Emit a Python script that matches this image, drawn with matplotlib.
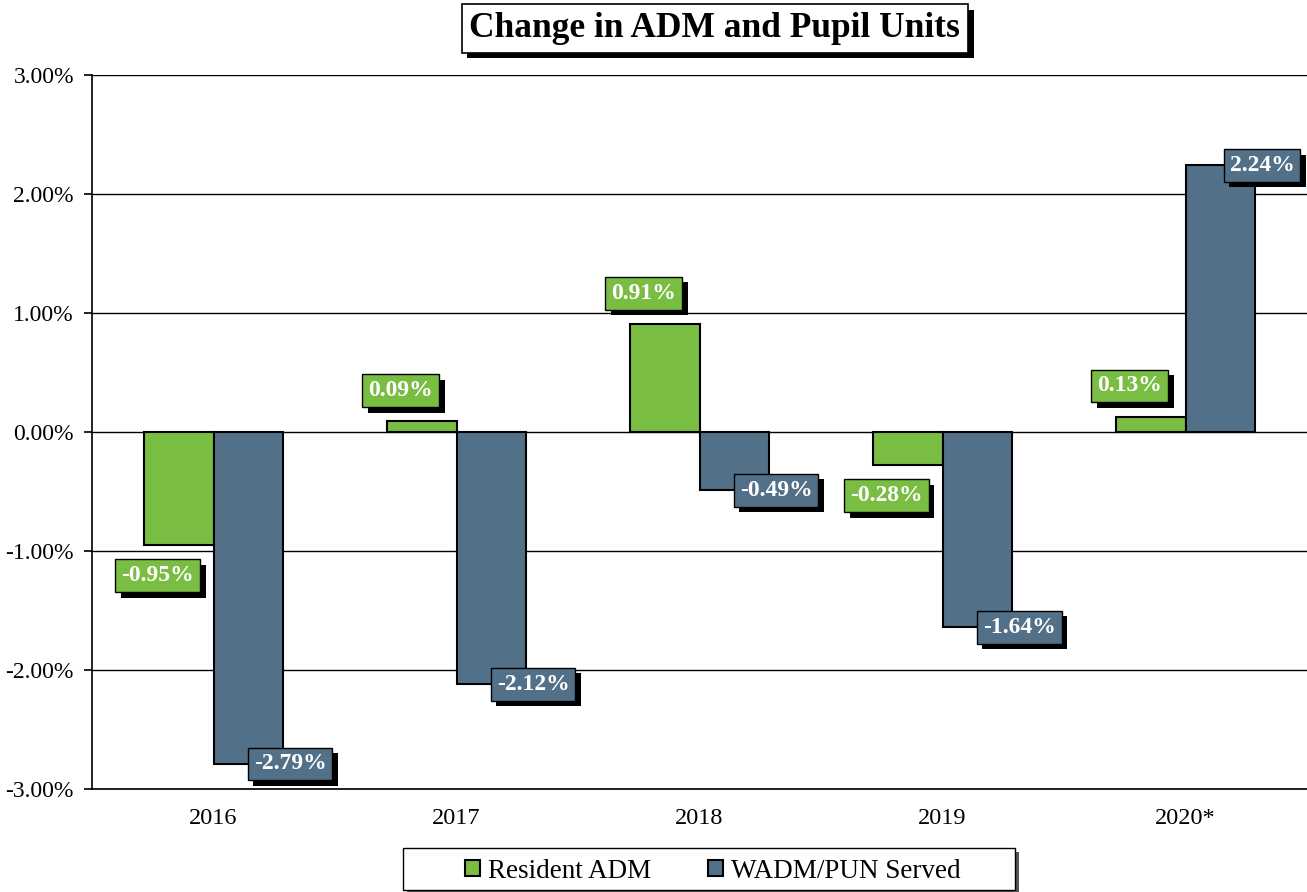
import matplotlib.pyplot as plt
import matplotlib.patheffects as pe
from matplotlib.patches import Rectangle
import numpy as np

years = ["2016", "2017", "2018", "2019", "2020*"]
resident_adm = [-0.95, 0.09, 0.91, -0.28, 0.13]
wadm_pun = [-2.79, -2.12, -0.49, -1.64, 2.24]

green = "#79BE43"
blue = "#527189"

plt.rcParams['font.family'] = ['Liberation Serif', 'DejaVu Serif']

fig = plt.figure(figsize=(13.07, 8.92), dpi=100)
ax = fig.add_axes([0.0704, 0.1155, 0.9296, 0.8004])

x = np.arange(len(years))
w = 0.288
b1 = ax.bar(x - w/2, resident_adm, w, color=green, edgecolor="black", linewidth=1.5, zorder=3)
b2 = ax.bar(x + w/2, wadm_pun, w, color=blue, edgecolor="black", linewidth=1.5, zorder=3)

ax.set_xlim(-0.5, 4.5)
ax.set_ylim(-3, 3)
ax.set_yticks(np.arange(-3, 3.01, 1))
ax.set_yticklabels(["%.2f%%" % v for v in np.arange(-3, 3.01, 1)], fontsize=17)
ax.set_xticks(x)
ax.set_xticklabels(years, fontsize=17.5)
ax.tick_params(axis='x', length=0, pad=14)
ax.tick_params(axis='y', length=6, width=1.2, direction='out', pad=7)
ax.grid(axis='y', color='black', linewidth=1, zorder=0)
for s in ['top', 'right']:
    ax.spines[s].set_visible(False)
ax.spines['left'].set_linewidth(1.2)
ax.spines['bottom'].set_linewidth(1.2)

shadow = [pe.withSimplePatchShadow(offset=(4, -4), shadow_rgbFace='black', alpha=1.0)]

def label(xp, yp, val, color, dx, dy):
    t = ax.annotate("%.2f%%" % val, (xp, yp), xytext=(dx, dy), textcoords='offset points',
                    ha='center', va='center', fontsize=17, fontweight='bold', color='white',
                    bbox=dict(boxstyle='square,pad=0.25', facecolor=color, edgecolor='black', linewidth=1),
                    zorder=5)
    t.get_bbox_patch().set_path_effects(shadow)

for i in range(len(years)):
    v = resident_adm[i]
    label(x[i] - w/2, v, v, green, -15, 22 if v > 0 else -22)
    v = wadm_pun[i]
    label(x[i] + w/2, v, v, blue, 30, 0)

title = fig.text(0.547, 0.968, "Change in ADM and Pupil Units", ha='center', va='center',
                 fontsize=25.5, fontweight='bold',
                 bbox=dict(boxstyle='square,pad=0.22', facecolor='white', edgecolor='black', linewidth=1.2))
title.get_bbox_patch().set_path_effects(shadow)

# legend frame drawn by hand (wide horizontal padding)
frame = Rectangle((403/1307, 1 - 890/892), 612/1307, 42/892, transform=fig.transFigure,
                  facecolor='white', edgecolor='black', linewidth=1.0, zorder=1)
frame.set_path_effects([pe.withSimplePatchShadow(offset=(3, -3), shadow_rgbFace='#555555', alpha=1.0)])
fig.patches.append(frame)

leg = fig.legend([b1, b2], ["Resident ADM", "WADM/PUN Served"], loc='center', bbox_to_anchor=(0.5455, 0.0235),
                 ncol=2, fontsize=19.5, frameon=False,
                 handlelength=0.55, handleheight=0.55, handletextpad=0.3, columnspacing=2.1,
                 borderpad=0.2, borderaxespad=0)

fig.savefig("out.png", dpi=100)
